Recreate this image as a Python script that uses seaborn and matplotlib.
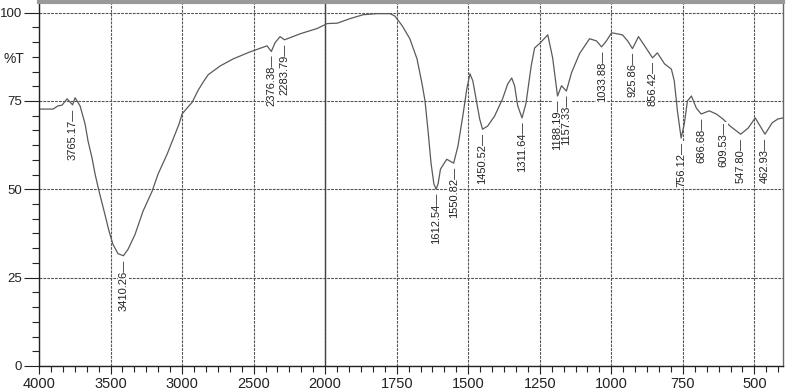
import matplotlib

matplotlib.use("Agg")
import matplotlib.pyplot as plt
import matplotlib.ticker as mticker
import numpy as np
import pandas as pd
import seaborn as sns

# IR spectrum (wavenumber cm-1, %T)
wavenumber = [
    4000, 3902, 3867, 3839, 3804, 3765, 3748, 3713, 3678, 3657, 3629, 3608,
    3580, 3545, 3510, 3483, 3448, 3410, 3378, 3329, 3273, 3210, 3168, 3105,
    3049, 3021, 3000, 2965, 2930, 2888, 2850, 2818, 2734, 2643, 2524, 2406,
    2376, 2350, 2315, 2284, 2175, 2056, 2000, 1993, 1958, 1913, 1867, 1819,
    1773, 1756, 1731, 1704, 1679, 1662, 1651, 1641, 1630, 1620, 1612, 1605,
    1597, 1575, 1551, 1536, 1519, 1505, 1494, 1484, 1470, 1460, 1450, 1432,
    1408, 1380, 1362, 1348, 1338, 1327, 1312, 1298, 1280, 1268, 1250, 1222,
    1205, 1188, 1174, 1157, 1139, 1111, 1076, 1052, 1034, 1017, 999, 961,
    943, 926, 905, 877, 856, 839, 814, 790, 780, 769, 756, 745, 734, 720,
    703, 686, 658, 633, 610, 585, 548, 522, 497, 463, 438, 418, 400,
]
transmittance = [
    72.7, 72.7, 73.6, 73.8, 75.6, 73.9, 75.9, 73.6, 68.5, 63.6, 58.8, 54.3,
    49.4, 43.8, 38.1, 34.4, 31.8, 31.2, 33.0, 37.2, 43.8, 49.4, 54.3, 59.9,
    65.6, 68.5, 71.3, 73.0, 74.6, 78.0, 80.5, 82.4, 84.9, 86.9, 88.9, 90.6,
    89.0, 91.5, 93.2, 92.3, 94.0, 95.5, 96.6, 96.9, 97.0, 98.3, 99.4, 99.7,
    99.7, 99.0, 96.3, 92.6, 86.9, 80.1, 75.0, 67.0, 57.4, 51.5, 50.0, 51.7,
    55.7, 58.5, 57.4, 62.2, 70.7, 78.4, 82.7, 80.7, 74.4, 69.9, 67.0, 67.9,
    70.7, 75.6, 79.8, 81.5, 79.3, 73.6, 70.2, 74.4, 84.9, 90.0, 91.3, 93.7,
    87.2, 76.4, 79.3, 77.8, 83.0, 88.4, 92.6, 92.0, 90.3, 92.0, 94.3, 93.7,
    92.0, 89.8, 93.2, 89.8, 87.2, 88.6, 85.5, 84.0, 80.7, 72.2, 64.5, 68.5,
    75.0, 76.4, 73.0, 71.3, 72.2, 71.3, 69.9, 67.9, 65.6, 67.3, 70.2, 65.6,
    68.8, 69.9, 70.2,
]

peak_wn = [3765.17, 3410.26, 2376.38, 2283.79, 1612.54, 1550.82, 1450.52,
           1311.64, 1188.19, 1157.33, 1033.88, 925.86, 856.42, 756.12,
           686.68, 609.53, 547.80, 462.93]
peak_t = [73.9, 31.2, 89.0, 92.3, 50.0, 57.4, 67.0, 70.2, 76.4, 77.8, 90.3,
          89.8, 87.2, 64.5, 71.3, 69.9, 65.6, 65.6]

x_major = [4000, 3500, 3000, 2500, 2000, 1750, 1500, 1250, 1000, 750, 500]
y_major = [0, 25, 50, 75, 100]

df = pd.DataFrame({"wn": wavenumber, "T": transmittance})


# axis is compressed 2x above 2000 cm-1 (500 per division vs 250 below)
def forward(w):
    w = np.asarray(w, dtype=float)
    return np.where(w < 2000, (w - 2000) / 250.0, (w - 2000) / 500.0)


def inverse(u):
    u = np.asarray(u, dtype=float)
    return np.where(u < 0, 2000 + 250.0 * u, 2000 + 500.0 * u)


sns.set_theme(style="white")
plt.rcParams["font.family"] = ["Liberation Sans", "DejaVu Sans"]

fig = plt.figure(figsize=(7.87, 3.91), dpi=100)
ax = fig.add_axes([39 / 787, 25 / 391, 744 / 787, 364 / 391])
ax.set_xscale("function", functions=(forward, inverse))

sns.lineplot(data=df, x="wn", y="T", ax=ax, sort=False, color="#5a5a5a",
             linewidth=0.9)

ax.set_xlim(4000, 400)
ax.set_ylim(0, 103)
ax.set_xlabel("")
ax.set_ylabel("")

ax.xaxis.set_major_locator(mticker.FixedLocator(x_major))
ax.xaxis.set_minor_locator(mticker.FixedLocator(
    np.concatenate([np.arange(4000, 2000, -500 / 6), np.arange(2000, 400, -250 / 6)])))
ax.xaxis.set_major_formatter(mticker.FuncFormatter(lambda v, p: f"{v:.0f}"))
ax.yaxis.set_major_locator(mticker.FixedLocator(y_major))
ax.yaxis.set_minor_locator(mticker.MultipleLocator(25 / 6))

ax.tick_params(axis="x", which="major", direction="out", length=6, width=0.8,
               pad=2, labelsize=10.5, bottom=True, colors="#222222")
ax.tick_params(axis="x", which="minor", direction="out", length=4, width=0.8,
               bottom=True, color="#222222")
ax.tick_params(axis="y", which="major", direction="out", length=11, width=0.8,
               pad=1, labelsize=9.5, left=True, colors="#222222")
ax.tick_params(axis="y", which="minor", direction="out", length=5, width=0.8,
               left=True, color="#222222")

ax.grid(True, which="major", color="#555555", linestyle=(0, (2.5, 1)),
        linewidth=0.8)
ax.axvline(2000, color="#444444", linewidth=1.0, zorder=1)

for side in ["left", "bottom"]:
    ax.spines[side].set_color("#222222")
    ax.spines[side].set_linewidth(1.0)
ax.spines["right"].set_color("#666666")
ax.spines["right"].set_linewidth(1.0)
ax.spines["top"].set_color("#999999")
ax.spines["top"].set_linewidth(3.0)

ax.text(-0.034, 87, "%T", transform=ax.get_yaxis_transform(), ha="center",
        va="center", fontsize=10, color="#222222")

for w, t in zip(peak_wn, peak_t):
    ax.annotate(f"{w:.2f}\u2014", xy=(w, t), xytext=(0, -2.5),
                textcoords="offset points", rotation=90, ha="center", va="top",
                fontsize=8, color="#222222",
                bbox=dict(fc="white", ec="none", pad=0.3), zorder=5)

fig.savefig("out.png", dpi=100)
plt.close(fig)
